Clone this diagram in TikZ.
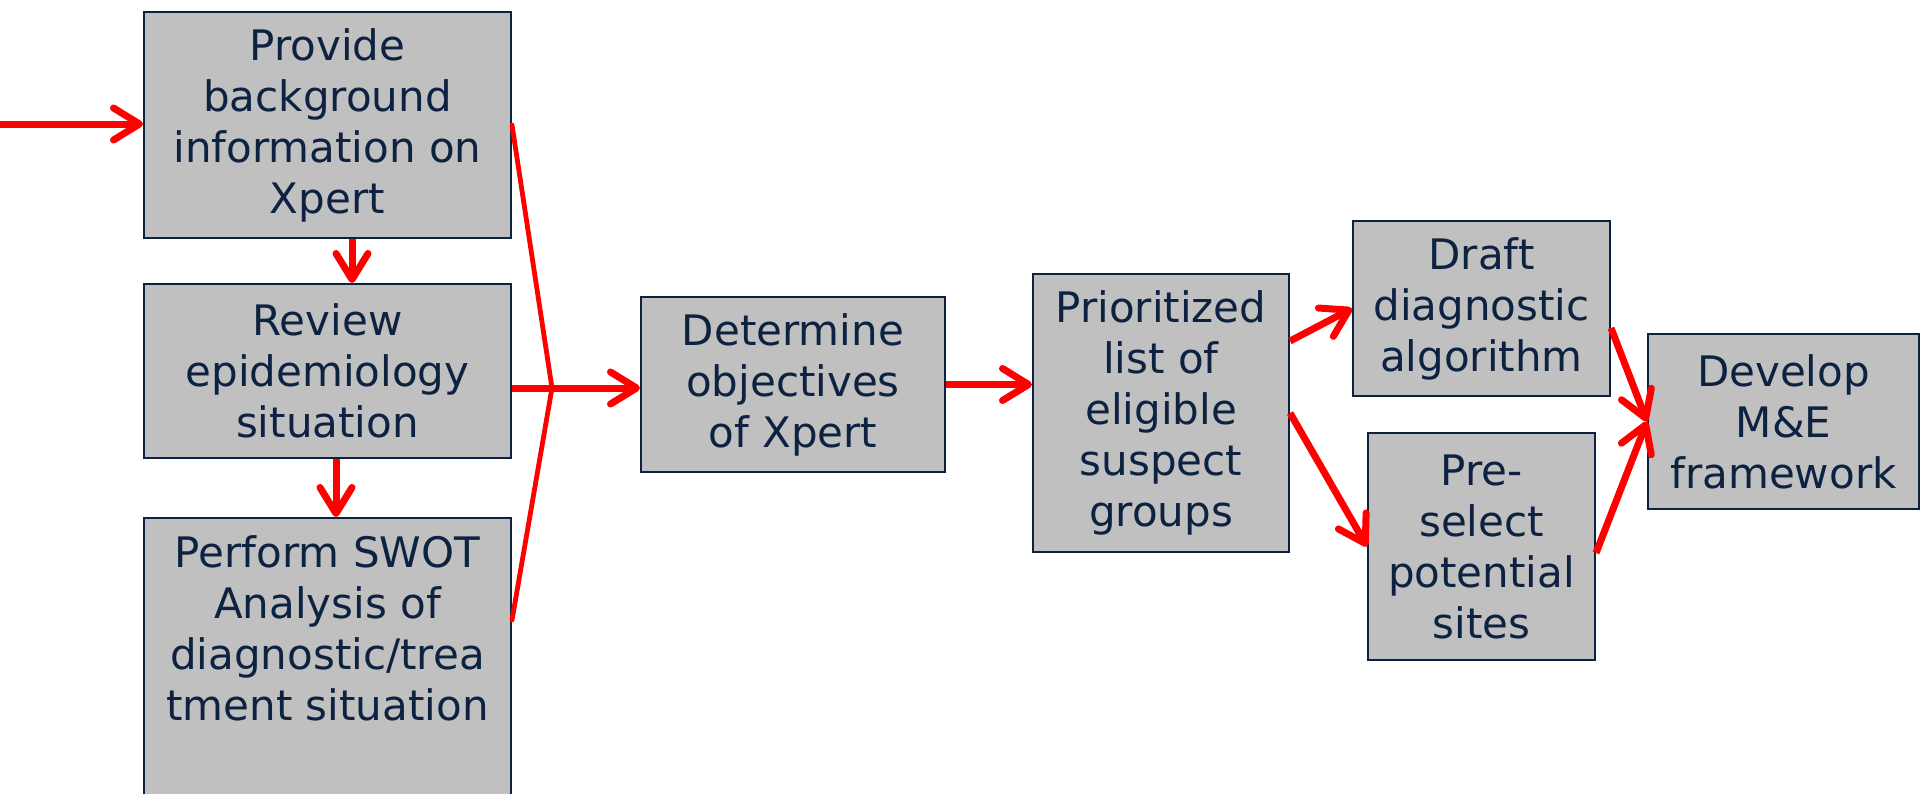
\documentclass[tikz,border=0pt]{standalone}
\usepackage{fontspec}
\setmainfont{DejaVu Sans}
\usetikzlibrary{arrows.meta,calc}
\definecolor{navy}{HTML}{0D2241}
\definecolor{boxgray}{HTML}{C0C0C0}
\definecolor{arrowred}{HTML}{FF0000}
\begin{document}
\begin{tikzpicture}[x=0.5pt,y=-0.5pt,
  box/.style={draw=navy, line width=1pt, fill=boxgray, text=navy, align=center,
    inner sep=0pt, font=\fontsize{21}{25.5}\selectfont,
    execute at begin node={\rule{0pt}{24pt}}},
  flow/.style={draw=arrowred, line width=3.5pt,
    -{Straight Barb[length=13pt,width=16pt,round]}},
  fan/.style={draw=arrowred, line width=2.4pt, line cap=round}]
\useasboundingbox (0,0) rectangle (1920,793);
\node[box, minimum width=183.5pt, minimum height=113pt] (bg) at (327.5,125)
  {Provide\\background\\information on\\Xpert};
\node[box, minimum width=183.5pt, minimum height=87pt] (epi) at (327.5,371)
  {Review\\epidemiology\\situation};
\node[box, minimum width=183.5pt, inner ysep=9pt, anchor=north] (swot) at (327.5,517)
  {Perform SWOT\\Analysis of\\diagnostic/trea\\tment situation\\\strut\\\strut};
\node[box, minimum width=152pt, minimum height=87.5pt] (obj) at (793,384.5)
  {Determine\\objectives\\of Xpert};
\node[box, minimum width=128pt, minimum height=139pt] (prio) at (1161,413)
  {Prioritized\\list of\\eligible\\suspect\\groups};
\node[box, minimum width=128.5pt, minimum height=87.5pt] (draft) at (1481.5,308.5)
  {Draft\\diagnostic\\algorithm};
\node[box, minimum width=113.5pt, minimum height=113.5pt] (pre) at (1481.5,546.5)
  {Pre-\\select\\potential\\sites};
\node[box, minimum width=135.5pt, minimum height=87.5pt] (dev) at (1783.5,421.5)
  {Develop\\M\&E\\framework};
\coordinate (start) at (-10,124);
\coordinate (J) at (552,388);
\draw[flow] (start) -- (start -| bg.west);
\draw[flow] ([xshift=12.25pt]bg.south) -- ([xshift=12.25pt]epi.north);
\draw[flow] ([xshift=4.25pt]epi.south) -- ([xshift=4.25pt]swot.north);
\draw[fan] (bg.east) -- (J);
\draw[fan] ([yshift=-51.5pt]swot.north east) -- (J);
\draw[flow] ([yshift=-8.5pt]epi.east) -- (J -| obj.west);
\draw[flow] (obj.east) -- (obj.east -| prio.west);
\draw[flow] ([yshift=36pt]prio.east) -- (draft.west);
\draw[flow] (prio.east) -- (pre.west);
\draw[flow] ([yshift=-9.75pt]draft.east) -- (dev.west);
\draw[flow] ([yshift=-3.25pt]pre.east) -- (dev.west);
\end{tikzpicture}
\end{document}
